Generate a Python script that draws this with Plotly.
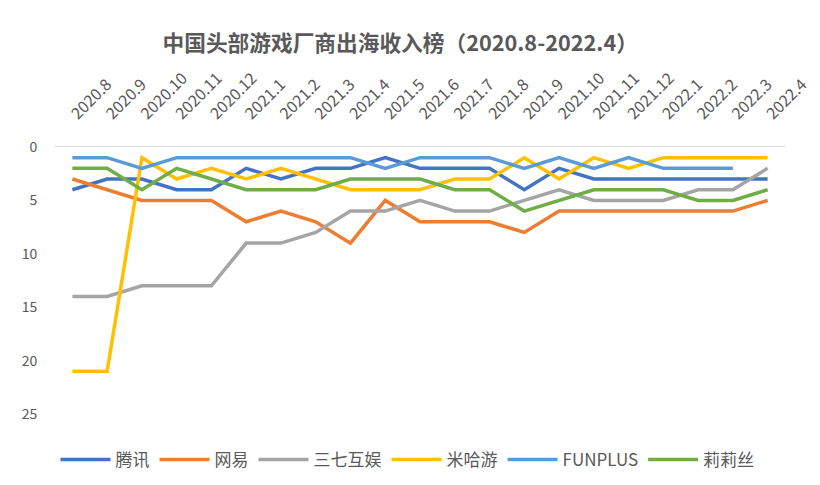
import plotly.graph_objects as go

months = ["2020.8", "2020.9", "2020.10", "2020.11", "2020.12", "2021.1", "2021.2", "2021.3",
          "2021.4", "2021.5", "2021.6", "2021.7", "2021.8", "2021.9", "2021.10", "2021.11",
          "2021.12", "2022.1", "2022.2", "2022.3", "2022.4"]

tencent = [4, 3, 3, 4, 4, 2, 3, 2, 2, 1, 2, 2, 2, 4, 2, 3, 3, 3, 3, 3, 3]
netease = [3, 4, 5, 5, 5, 7, 6, 7, 9, 5, 7, 7, 7, 8, 6, 6, 6, 6, 6, 6, 5]
sanqi = [14, 14, 13, 13, 13, 9, 9, 8, 6, 6, 5, 6, 6, 5, 4, 5, 5, 5, 4, 4, 2]
mihoyo = [21, 21, 1, 3, 2, 3, 2, 3, 4, 4, 4, 3, 3, 1, 3, 1, 2, 1, 1, 1, 1]
funplus = [1, 1, 2, 1, 1, 1, 1, 1, 1, 2, 1, 1, 1, 2, 1, 2, 1, 2, 2, 2, None]
lilith = [2, 2, 4, 2, 3, 4, 4, 4, 3, 3, 3, 4, 4, 6, 5, 4, 4, 4, 5, 5, 4]

y_ticks = [0, 5, 10, 15, 20, 25]

series = [
    ("腾讯", tencent, "#4472C4"),
    ("网易", netease, "#ED7D31"),
    ("三七互娱", sanqi, "#A5A5A5"),
    ("米哈游", mihoyo, "#FFC000"),
    ("FUNPLUS", funplus, "#5B9BD5"),
    ("莉莉丝", lilith, "#70AD47"),
]

FONT = "Noto Sans CJK SC, Open Sans, sans-serif"

fig = go.Figure()
for name, vals, color in series:
    fig.add_trace(go.Scatter(
        x=months, y=vals, name=name, mode="lines",
        line=dict(color=color, width=3.5),
        connectgaps=False,
    ))

fig.update_layout(
    width=812, height=477,
    paper_bgcolor="white", plot_bgcolor="white",
    margin=dict(l=47, r=35, t=139, b=71),
    font=dict(family=FONT, color="#595959", size=14),
    title=dict(
        text="<b>中国头部游戏厂商出海收入榜（2020.8-2022.4）</b>",
        x=0.483, xanchor="center", y=0.926, yanchor="middle",
        font=dict(size=21.7, color="#595959", family=FONT),
    ),
    showlegend=True,
    legend=dict(
        orientation="h", xref="container", yref="container",
        x=0.492, xanchor="center", y=0.0524, yanchor="middle",
        font=dict(size=17, color="#595959", family=FONT),
        traceorder="normal", itemwidth=50,
    ),
)

fig.update_xaxes(
    type="category", side="top", tickangle=-45,
    range=[-0.5, len(months) - 0.5], automargin=False,
    showline=True, linecolor="#D9D9D9", linewidth=1,
    showgrid=False, zeroline=False,
    ticks="outside", ticklen=17, tickcolor="rgba(0,0,0,0)",
    tickfont=dict(size=16, color="#595959"),
)
fig.update_yaxes(
    range=[25, 0], tickvals=y_ticks, automargin=False,
    showgrid=False, zeroline=False, showline=False,
    ticks="outside", ticklen=14, tickcolor="rgba(0,0,0,0)",
    tickfont=dict(size=14, color="#595959"),
)

fig.write_html("out.html")
